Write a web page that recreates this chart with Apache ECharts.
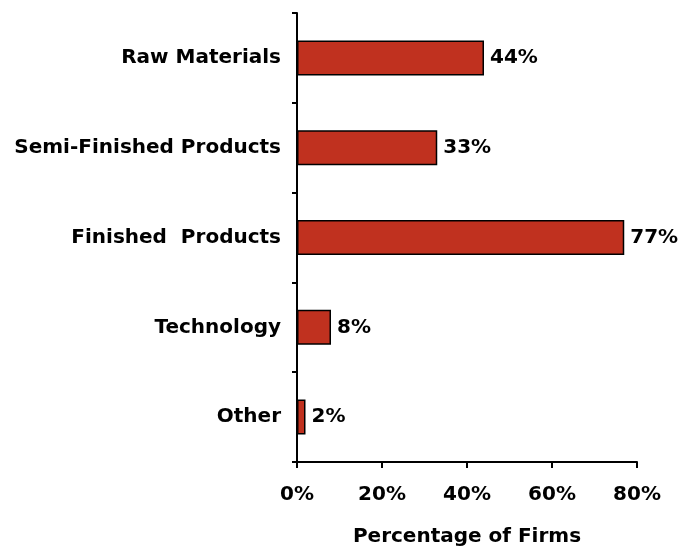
<!DOCTYPE html>
<html>
<head>
<meta charset="utf-8">
<script src="https://cdn.jsdelivr.net/npm/echarts@6/dist/echarts.min.js"></script>
<style>
  html, body { margin: 0; padding: 0; background: #fff; }
  #chart { width: 694px; height: 549px; }
</style>
</head>
<body>
<div id="chart"></div>
<script>
// Sourcing categories and share of firms (%)
const categories = ['Raw Materials', 'Semi-Finished Products', 'Finished  Products', 'Technology', 'Other'];
const shares = [44, 33, 77, 8, 2];
const xTicks = [0, 20, 40, 60, 80];

const FONT = '"DejaVu Sans", Verdana, sans-serif';
const chart = echarts.init(document.getElementById('chart'));

chart.setOption({
  animation: false,
  backgroundColor: '#ffffff',
  grid: { left: 297, right: 57, top: 13, bottom: 87, containLabel: false, outerBoundsMode: 'none' },
  xAxis: {
    type: 'value',
    min: xTicks[0],
    max: xTicks[xTicks.length - 1],
    interval: xTicks[1] - xTicks[0],
    name: 'Percentage of Firms',
    nameLocation: 'middle',
    nameGap: 65,
    nameTextStyle: { fontFamily: FONT, fontWeight: 'bold', fontSize: 20, color: '#000' },
    axisLine: { show: true, lineStyle: { color: '#000', width: 2 } },
    axisTick: { show: true, length: 6, lineStyle: { color: '#000', width: 2 } },
    axisLabel: { formatter: '{value}%', margin: 23, fontFamily: FONT, fontWeight: 'bold', fontSize: 20, color: '#000' },
    splitLine: { show: false }
  },
  yAxis: {
    type: 'category',
    data: categories,
    inverse: true,
    axisLine: { show: true, lineStyle: { color: '#000', width: 2 } },
    axisTick: { show: true, length: 5, lineStyle: { color: '#000', width: 2 } },
    axisLabel: { margin: 16, fontFamily: FONT, fontWeight: 'bold', fontSize: 20, color: '#000' }
  },
  series: [{
    type: 'bar',
    data: shares,
    barWidth: '39%',
    itemStyle: { color: '#C0311F', borderColor: '#000', borderWidth: 1.5 },
    label: {
      show: true,
      position: 'right',
      distance: 6,
      formatter: '{c}%',
      fontFamily: FONT,
      fontWeight: 'bold',
      fontSize: 20,
      color: '#000'
    }
  }]
});
</script>
</body>
</html>
